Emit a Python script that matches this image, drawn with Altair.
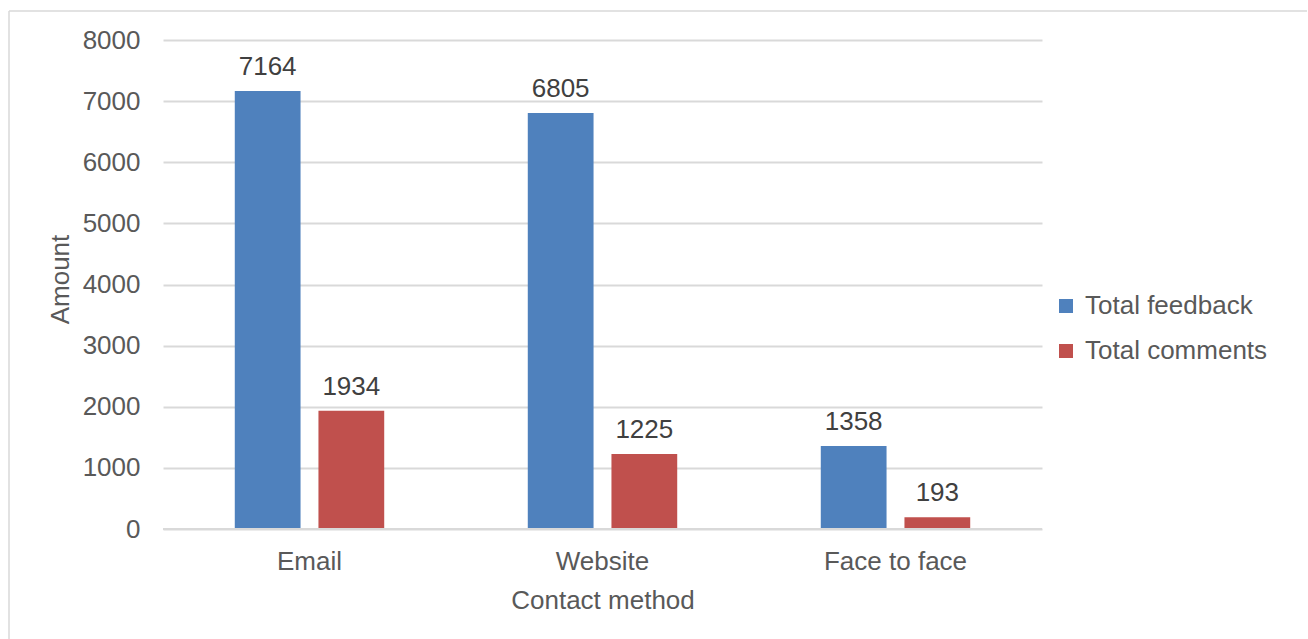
import altair as alt
import pandas as pd

categories = ["Email", "Website", "Face to face"]
series = ["Total feedback", "Total comments"]
total_feedback = [7164, 6805, 1358]
total_comments = [1934, 1225, 193]
y_ticks = [0, 1000, 2000, 3000, 4000, 5000, 6000, 7000, 8000]
colors = ["#4F81BD", "#C0504D"]

rows = []
for c, f, m in zip(categories, total_feedback, total_comments):
    rows.append({"method": c, "series": series[0], "amount": f})
    rows.append({"method": c, "series": series[1], "amount": m})
df = pd.DataFrame(rows)

FONT = "Liberation Sans"
W, H = 879, 489

x_enc = alt.X("method:N", sort=categories,
              scale=alt.Scale(paddingInner=0.49, paddingOuter=0.245),
              axis=alt.Axis(title="Contact method", ticks=False, domain=False,
                            labelPadding=19, labelAngle=0,
                            titleY=79, titleBaseline="alphabetic"))
xoff = alt.XOffset("series:N", sort=series,
                   scale=alt.Scale(paddingInner=0.214, paddingOuter=0))
y_enc = alt.Y("amount:Q", scale=alt.Scale(domain=[0, 8000]),
              axis=alt.Axis(title="Amount", values=y_ticks, ticks=False, domain=False,
                            labelPadding=23, grid=True, format="d",
                            titleX=-95, titleY=239, titleBaseline="alphabetic",
                            titleAngle=-90))

bars = alt.Chart(df).mark_bar().encode(
    x=x_enc, xOffset=xoff, y=y_enc,
    color=alt.Color("series:N", sort=series,
                    scale=alt.Scale(domain=series, range=colors),
                    legend=alt.Legend(title=None, orient="none", legendX=890, legendY=253,
                                      symbolType="square", symbolSize=196,
                                      symbolStrokeWidth=0, labelOffset=6,
                                      rowPadding=19, labelFontSize=26, labelLimit=400,
                                      labelFont=FONT, labelColor="#595959")),
)

labels = alt.Chart(df).mark_text(baseline="alphabetic", dy=-16, fontSize=26,
                                 font=FONT, color="#404040").encode(
    x=alt.X("method:N", sort=categories), xOffset=xoff,
    y=alt.Y("amount:Q"), text=alt.Text("amount:Q", format="d"),
)

baseline = alt.Chart(pd.DataFrame({"v": [0]})).mark_rule(
    color="#D9D9D9", strokeWidth=2).encode(y="v:Q")

frame_top = alt.Chart(pd.DataFrame({"a": [0]})).mark_rule(
    color="#D9D9D9", strokeWidth=1.5).encode(
    x=alt.value(-154), x2=alt.value(1144), y=alt.value(-29))
frame_left = alt.Chart(pd.DataFrame({"a": [0]})).mark_rule(
    color="#D9D9D9", strokeWidth=1.5).encode(
    x=alt.value(-154), y=alt.value(-29), y2=alt.value(620))

chart = alt.layer(frame_top, frame_left, bars, baseline, labels).properties(
    width=W, height=H,
    background="white",
    autosize=alt.AutoSizeParams(type="none"),
    padding={"left": 163, "top": 40, "right": 266, "bottom": 110},
).configure_view(stroke=None).configure_axis(
    labelFont=FONT, titleFont=FONT, labelFontSize=26, titleFontSize=26,
    labelColor="#595959", titleColor="#595959", titleFontWeight="normal",
    gridColor="#D9D9D9", gridWidth=2,
)

chart.save("out.html", embed_options={"renderer": "svg", "actions": False})
